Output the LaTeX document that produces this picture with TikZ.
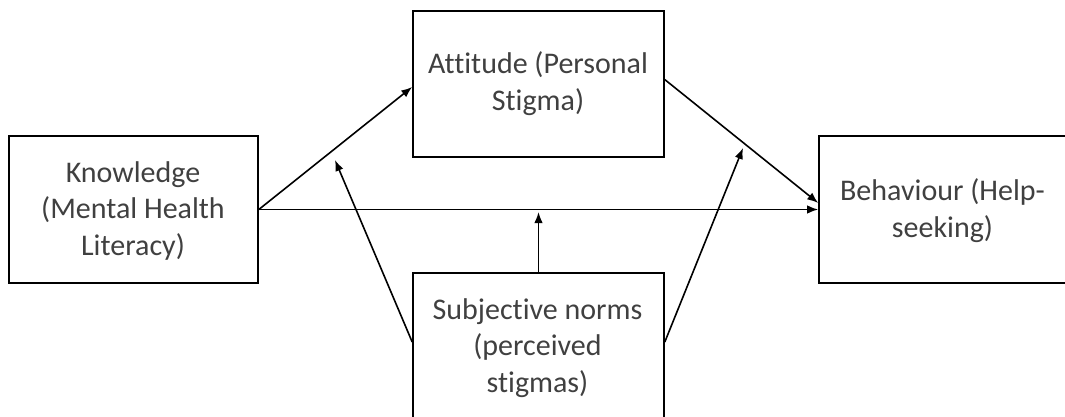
\documentclass[tikz,border=0pt]{standalone}
\usepackage{fontspec}
\setmainfont{Carlito}[Ligatures=NoCommon]
\usetikzlibrary{arrows.meta,calc}
\definecolor{txt}{HTML}{404040}
\begin{document}
\begin{tikzpicture}[x=1pt,y=-1pt,
  box/.style={draw=black, line width=1.6pt, inner sep=0pt},
  lbl/.style={text=txt, align=center, font=\fontsize{30}{36.5}\selectfont, anchor=base, inner sep=0pt},
  link/.style={draw=black, line width=1.6pt, -{Latex[length=11pt,width=8.5pt]}}]
\clip (0,0) rectangle (1065,416);
% boxes
\node[box, minimum width=249pt, minimum height=147pt] (know) at (133.5,209.5) {};
\node[box, minimum width=251pt, minimum height=146pt] (att)  at (538.5,84) {};
\node[box, minimum width=248pt, minimum height=147pt] (beh)  at (943,209.5) {};
\node[box, minimum width=251pt, minimum height=157pt] (subj) at (538.5,351.5) {};
% labels (anchored at the baseline of their last line)
\node[lbl] (knowtxt) at (133,255) {Knowledge\\(Mental Health\\Literacy)};
\node[lbl] (atttxt)  at (538,110) {Attitude (Personal\\Stigma)};
\node[lbl] (behtxt)  at (942.5,237) {Behaviour (Help-\\seeking)};
\node[lbl] (subjtxt) at (537.5,392) {Subjective norms\\(perceived\\stigmas)};
% free ends of the moderating arrows
\coordinate (m1) at (335,160);
\coordinate (m2) at (743,148);
\coordinate (m3) at (538.5,212);
% connectors
\draw[link] (know.east) -- ($(att.north west)!0.52!(att.south west)$);
\draw[link] (know.east) -- (beh.west |- know.east);
\draw[link] ($(att.north east)!0.47!(att.south east)$) -- ($(beh.north west)!0.456!(beh.south west)$);
\draw[link] ($(subj.north west)!0.44!(subj.south west)$) -- (m1);
\draw[link] ($(subj.north east)!0.44!(subj.south east)$) -- (m2);
\draw[link] (subj.north) -- (m3);
\end{tikzpicture}
\end{document}
